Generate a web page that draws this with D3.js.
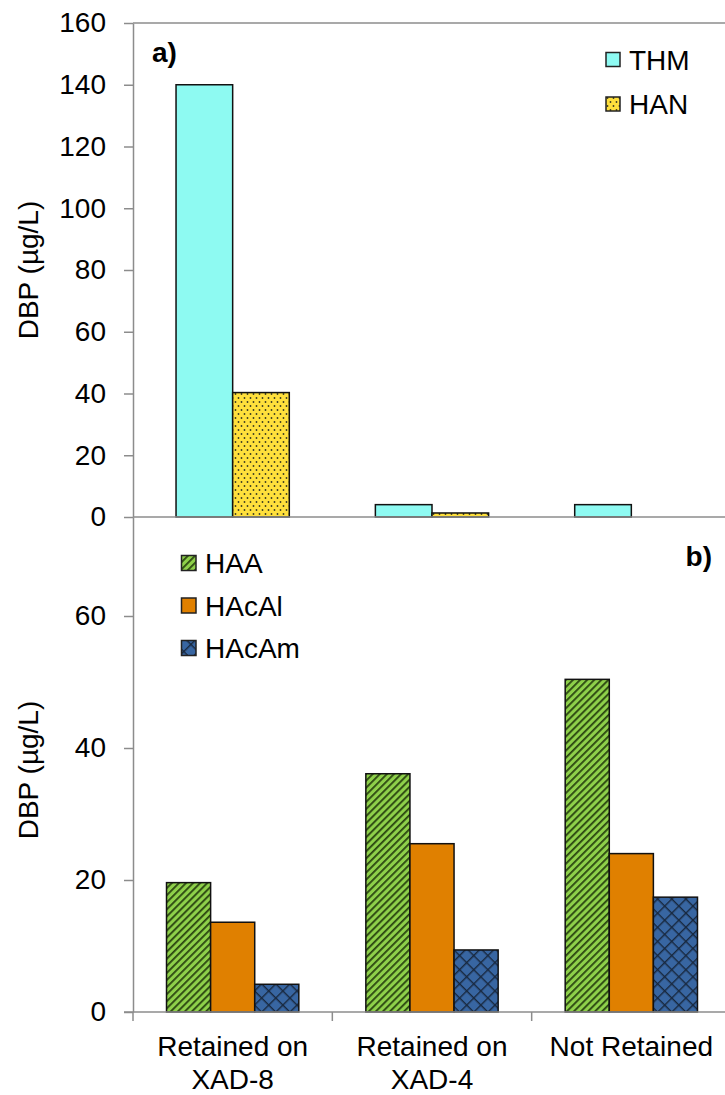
<!DOCTYPE html>
<html><head><meta charset="utf-8">
<script src="https://cdn.jsdelivr.net/npm/d3@7"></script>
<style>body{margin:0;background:#fff}text{font-family:Arial,"Liberation Sans",sans-serif;fill:#000}</style>
</head><body>
<svg id="c" width="725" height="1095"></svg>
<script>
const categories = ["Retained on XAD-8", "Retained on XAD-4", "Not Retained"];
const categoryLines = [["Retained on", "XAD-8"], ["Retained on", "XAD-4"], ["Not Retained"]];
const seriesTop = ["THM", "HAN"];
const thm = [140, 4, 4];
const han = [40.3, 1.3, 0];
const seriesBottom = ["HAA", "HAcAl", "HAcAm"];
const haa = [19.6, 36.1, 50.4];
const hacal = [13.6, 25.5, 24.0];
const hacam = [4.2, 9.4, 17.4];
const ticksTop = [0, 20, 40, 60, 80, 100, 120, 140, 160];
const ticksBottom = [0, 20, 40, 60];

const svg = d3.select("#c");
const defs = svg.append("defs");
// patterns
const pDots = defs.append("pattern").attr("id","dots").attr("patternUnits","userSpaceOnUse").attr("width",6).attr("height",8);
pDots.append("rect").attr("width",6).attr("height",8).attr("fill","#FFE03C");
pDots.append("circle").attr("cx",1.5).attr("cy",2).attr("r",0.9).attr("fill","#3a3a20");
pDots.append("circle").attr("cx",4.5).attr("cy",6).attr("r",0.9).attr("fill","#3a3a20");
const pStripe = defs.append("pattern").attr("id","stripe").attr("patternUnits","userSpaceOnUse").attr("width",5).attr("height",5).attr("patternTransform","rotate(45)");
pStripe.append("rect").attr("width",5).attr("height",5).attr("fill","#8ED04A");
pStripe.append("rect").attr("x",0).attr("width",1.8).attr("height",5).attr("fill","#2A4510");
const pCross = defs.append("pattern").attr("id","cross").attr("patternUnits","userSpaceOnUse").attr("width",10).attr("height",10).attr("patternTransform","rotate(45)");
pCross.append("rect").attr("width",10).attr("height",10).attr("fill","#3866A2");
pCross.append("rect").attr("width",1.4).attr("height",10).attr("fill","#18283e");
pCross.append("rect").attr("width",10).attr("height",1.4).attr("fill","#18283e");

const fillsTop = {THM:"#8EFAF2", HAN:"url(#dots)"};
const fillsBottom = {HAA:"url(#stripe)", HAcAl:"#E08000", HAcAm:"url(#cross)"};

const xL = 133, xR = 731;
const x0 = d3.scaleBand().domain(categories).range([xL, xR]);
const yTop = d3.scaleLinear().domain([0,160]).range([517,23]);
const yBot = d3.scaleLinear().domain([0,75]).range([1012,517]);
const x1Top = d3.scaleBand().domain(seriesTop).range([0, x0.bandwidth()]).paddingOuter(0.76);
const x1Bot = d3.scaleBand().domain(seriesBottom).range([0, x0.bandwidth()]).paddingOuter(0.76);

const axisColor = "#8c8c8c";
const FS = 28;

// top panel bars
const topData = {THM: thm, HAN: han};
seriesTop.forEach(s => {
  svg.append("g").selectAll("rect").data(categories.map((c,i)=>({c, v: topData[s][i]})).filter(d=>d.v>0))
    .join("rect")
    .attr("x", d => x0(d.c) + x1Top(s))
    .attr("width", x1Top.bandwidth())
    .attr("y", d => yTop(d.v))
    .attr("height", d => yTop(0) - yTop(d.v))
    .attr("fill", fillsTop[s]).attr("stroke","#111").attr("stroke-width",1.5);
});
const botData = {HAA: haa, HAcAl: hacal, HAcAm: hacam};
seriesBottom.forEach(s => {
  svg.append("g").selectAll("rect").data(categories.map((c,i)=>({c, v: botData[s][i]})).filter(d=>d.v>0))
    .join("rect")
    .attr("x", d => x0(d.c) + x1Bot(s))
    .attr("width", x1Bot.bandwidth())
    .attr("y", d => yBot(d.v))
    .attr("height", d => yBot(0) - yBot(d.v))
    .attr("fill", fillsBottom[s]).attr("stroke","#111").attr("stroke-width",1.5);
});

// axes
function styleAxis(g){
  g.selectAll("path,line").attr("stroke",axisColor).attr("stroke-width",1.5);
  g.selectAll("text").attr("font-size",FS).attr("font-family","Arial, 'Liberation Sans', sans-serif").attr("fill","#000");
}
const gyT = svg.append("g").attr("transform",`translate(${xL},0)`)
  .call(d3.axisLeft(yTop).tickValues(ticksTop).tickSize(9).tickPadding(18).tickSizeOuter(0));
styleAxis(gyT);
const gyB = svg.append("g").attr("transform",`translate(${xL},0)`)
  .call(d3.axisLeft(yBot).tickValues(ticksBottom).tickSize(9).tickPadding(18).tickSizeOuter(0));
styleAxis(gyB);
// top border line and top panel baseline
svg.append("line").attr("x1",xL).attr("x2",725).attr("y1",yTop(160)).attr("y2",yTop(160)).attr("stroke",axisColor).attr("stroke-width",1.5);
svg.append("line").attr("x1",xL).attr("x2",725).attr("y1",yTop(0)).attr("y2",yTop(0)).attr("stroke",axisColor).attr("stroke-width",1.5);
// bottom x axis
const gx = svg.append("g").attr("transform",`translate(0,${yBot(0)})`)
  .call(d3.axisBottom(x0).tickSize(9).tickSizeOuter(0).tickFormat(""));
gx.selectAll(".tick").attr("transform", d => `translate(${x0(d)},0)`);
gx.select("path").attr("d", `M${xL-9},0H${725}`);
styleAxis(gx);
// category labels
categories.forEach((c,i) => {
  const t = svg.append("text").attr("text-anchor","middle").attr("font-size",FS)
    .attr("x", x0(c) + x0.bandwidth()/2).attr("y", 1056);
  categoryLines[i].forEach((ln,j) => t.append("tspan").attr("x", x0(c) + x0.bandwidth()/2).attr("dy", j===0?0:33).text(ln));
});

// y labels
[[270],[770]].forEach(([cy]) => {
  svg.append("text").attr("transform",`translate(38,${cy}) rotate(-90)`).attr("text-anchor","middle")
    .attr("font-size",FS).text("DBP (µg/L)");
});

// panel labels
svg.append("text").attr("x",152).attr("y",62).attr("font-size",FS).attr("font-weight","bold").text("a)");
svg.append("text").attr("x",712).attr("y",566).attr("text-anchor","end").attr("font-size",FS).attr("font-weight","bold").text("b)");

// legends
const legTop = svg.append("g");
seriesTop.forEach((s,i) => {
  const cy = 59.5 + i*44.5;
  legTop.append("rect").attr("x",606).attr("y",cy-7).attr("width",14).attr("height",14).attr("fill",fillsTop[s]).attr("stroke","#222").attr("stroke-width",1.5);
  legTop.append("text").attr("x",629).attr("y",cy).attr("dy","0.36em").attr("font-size",FS).text(s);
});
const legBot = svg.append("g");
seriesBottom.forEach((s,i) => {
  const cy = 563 + i*42.5;
  legBot.append("rect").attr("x",181.5).attr("y",cy-7.5).attr("width",14.5).attr("height",15).attr("fill",fillsBottom[s]).attr("stroke","#222").attr("stroke-width",1.5);
  legBot.append("text").attr("x",205).attr("y",cy).attr("dy","0.36em").attr("font-size",FS).text(s);
});
</script>
</body></html>
